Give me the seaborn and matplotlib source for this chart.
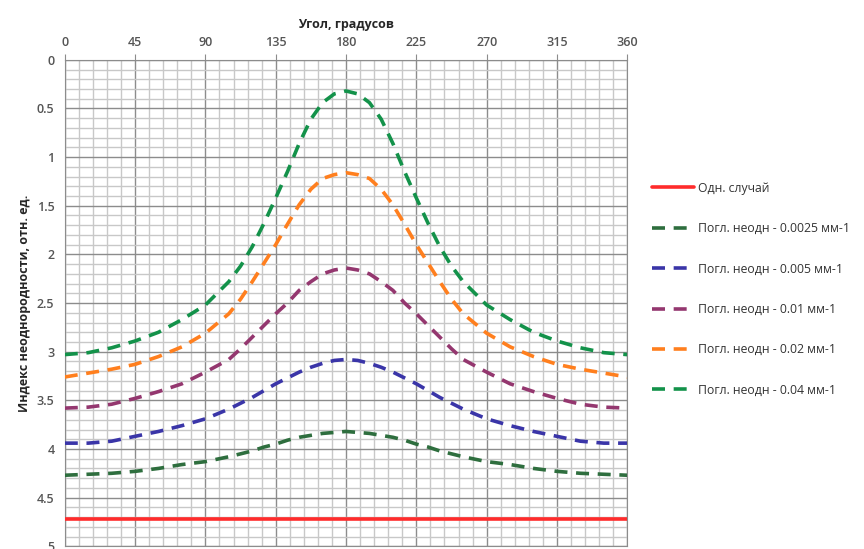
import numpy as np
import pandas as pd
import matplotlib
matplotlib.use("Agg")
import matplotlib.pyplot as plt
import seaborn as sns
from matplotlib.ticker import MultipleLocator

# angle, degrees (denser around the peak)
angles = [0, 15, 30, 45, 60, 75, 90, 105,
          112.5, 120, 127.5, 135, 142.5, 150, 157.5, 165, 172.5, 180,
          187.5, 195, 202.5, 210, 217.5, 225, 232.5, 240, 247.5,
          255, 270, 285, 300, 315, 330, 345, 360]

# index values
homog = [4.72] * 35
a0025 = [4.27, 4.26, 4.25, 4.23, 4.20, 4.16, 4.13, 4.08,
         4.05, 4.02, 3.98, 3.95, 3.91, 3.88, 3.86, 3.84, 3.83, 3.82,
         3.83, 3.84, 3.86, 3.88, 3.91, 3.95, 3.98, 4.02, 4.05,
         4.08, 4.13, 4.16, 4.20, 4.23, 4.25, 4.26, 4.27]
a005 = [3.94, 3.94, 3.92, 3.87, 3.82, 3.76, 3.69, 3.59,
        3.53, 3.47, 3.40, 3.33, 3.27, 3.21, 3.16, 3.12, 3.09, 3.08,
        3.09, 3.12, 3.16, 3.21, 3.27, 3.33, 3.40, 3.47, 3.53,
        3.59, 3.69, 3.76, 3.82, 3.87, 3.92, 3.94, 3.94]
a01 = [3.58, 3.57, 3.54, 3.48, 3.41, 3.33, 3.21, 3.08,
       2.97, 2.85, 2.73, 2.61, 2.50, 2.37, 2.28, 2.20, 2.16, 2.14,
       2.16, 2.20, 2.28, 2.37, 2.50, 2.61, 2.73, 2.85, 2.97,
       3.08, 3.21, 3.33, 3.41, 3.48, 3.54, 3.57, 3.58]
a02 = [3.26, 3.22, 3.18, 3.13, 3.05, 2.95, 2.81, 2.61,
       2.46, 2.28, 2.09, 1.90, 1.69, 1.49, 1.33, 1.22, 1.18, 1.16,
       1.18, 1.22, 1.33, 1.49, 1.69, 1.90, 2.09, 2.28, 2.46,
       2.61, 2.81, 2.95, 3.05, 3.13, 3.18, 3.22, 3.26]
a04 = [3.03, 3.01, 2.96, 2.89, 2.80, 2.67, 2.52, 2.28,
       2.12, 1.92, 1.68, 1.42, 1.15, 0.86, 0.61, 0.44, 0.35, 0.32,
       0.35, 0.44, 0.61, 0.86, 1.15, 1.42, 1.68, 1.92, 2.12,
       2.28, 2.52, 2.67, 2.80, 2.89, 2.96, 3.01, 3.03]

labels = ["Одн. случай",
          "Погл. неодн - 0.0025 мм-1",
          "Погл. неодн - 0.005 мм-1",
          "Погл. неодн - 0.01 мм-1",
          "Погл. неодн - 0.02 мм-1",
          "Погл. неодн - 0.04 мм-1"]
colors = ["#ff2b2b", "#2e6e3e", "#3a35a8", "#94376f", "#ff7f1e", "#13924a"]

series = [homog, a0025, a005, a01, a02, a04]
rows = []
for lab, vals in zip(labels, series):
    for a, v in zip(angles, vals):
        rows.append((a, v, lab))
df = pd.DataFrame(rows, columns=["angle", "value", "series"])

sns.set_style("white")
plt.rcParams['font.family'] = ['Open Sans', 'DejaVu Sans']

fig = plt.figure(figsize=(8.64, 5.49), dpi=100)
ax = fig.add_axes([0.075, 0.005, 0.651, 0.886])

dashes = {lab: (3.6, 2.4) for lab in labels}
dashes[labels[0]] = ""
sns.lineplot(data=df, x="angle", y="value", hue="series", style="series",
             palette=dict(zip(labels, colors)), dashes=dashes,
             hue_order=labels, style_order=labels, linewidth=2.6, ax=ax, zorder=3)

ax.set_xlim(0, 360)
ax.set_ylim(5, 0)
ax.xaxis.set_major_locator(MultipleLocator(45))
ax.xaxis.set_minor_locator(MultipleLocator(9))
ax.yaxis.set_major_locator(MultipleLocator(0.5))
ax.yaxis.set_minor_locator(MultipleLocator(0.1))
ax.grid(which="major", color="#8c8c8c", linewidth=1.0)
ax.grid(which="minor", color="#c8c8c8", linewidth=1.0)
ax.set_axisbelow(True)
ax.xaxis.tick_top()
ax.xaxis.set_label_position("top")
ax.set_xticks([0, 45, 90, 135, 180, 225, 270, 315, 360])
ax.set_xticklabels(["0", "45", "90", "135", "180", "225", "270", "315", "360"])
ax.set_yticks([0, 0.5, 1, 1.5, 2, 2.5, 3, 3.5, 4, 4.5, 5])
ax.set_yticklabels(["0", "0.5", "1", "1.5", "2", "2.5", "3", "3.5", "4", "4.5", "5"])
ax.tick_params(axis="both", which="major", labelsize=9, labelcolor="#555555",
               length=4, color="#8c8c8c")
ax.tick_params(which="minor", length=0)
for lab in ax.get_xticklabels() + ax.get_yticklabels():
    lab.set_fontweight("semibold")
for s in ax.spines.values():
    s.set_color("#8c8c8c")

ax.set_xlabel("Угол, градусов", fontsize=9, fontweight="bold", labelpad=6)
ax.set_ylabel("Индекс неоднородности, отн. ед.", fontsize=9, fontweight="bold", labelpad=4)

leg = ax.legend(loc="upper left", bbox_to_anchor=(1.025, 0.772), frameon=False,
                fontsize=8.8, labelspacing=2.24, handlelength=3.4, handletextpad=0.3)
for t in leg.get_texts():
    t.set_color("#333333")

fig.savefig("out.png", dpi=100)
